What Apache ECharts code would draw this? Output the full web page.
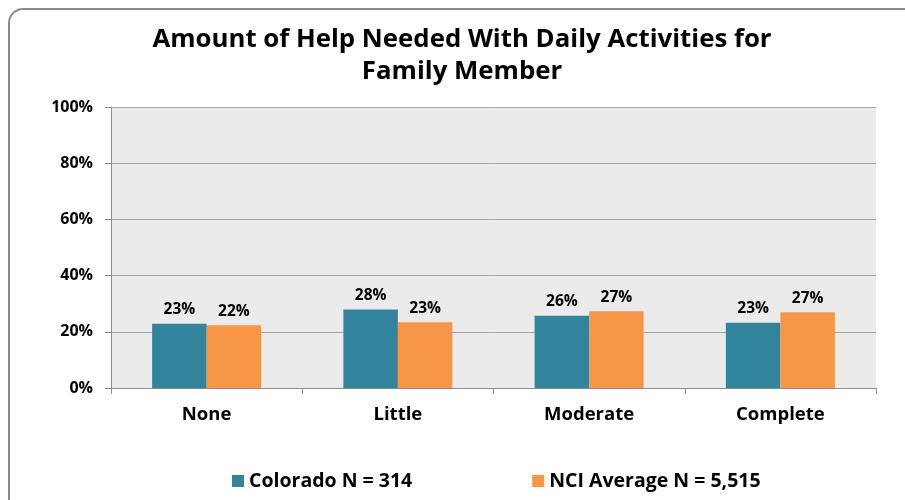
<!DOCTYPE html>
<html>
<head>
<meta charset="utf-8">
<style>
  html, body { margin: 0; padding: 0; background: #fff; }
  #main { width: 905px; height: 500px; }
</style>
<script src="https://cdn.jsdelivr.net/npm/echarts@6/dist/echarts.min.js"></script>
</head>
<body>
<div id="main"></div>
<script>
var categories = ['None', 'Little', 'Moderate', 'Complete']
var colorado = [22.9, 27.9, 25.7, 23.2]
var nciAverage = [22.3, 23.4, 27.3, 27.0]
var seriesNames = ['Colorado N = 314', 'NCI Average N = 5,515']

var font = 'Open Sans'
var chart = echarts.init(document.getElementById('main'))

function label() {
  return {
    show: true,
    position: 'top',
    distance: 6,
    color: '#000',
    fontFamily: font,
    fontWeight: 'bold',
    fontSize: 15.5,
    formatter: function(p) { return Math.round(p.value) + '%' }
  }
}

chart.setOption({
  animation: false,
  title: {
    text: 'Amount of Help Needed With Daily Activities for\nFamily Member',
    left: 457,
    textAlign: 'center',
    top: 19,
    textStyle: {
      fontFamily: font,
      fontWeight: 'bold',
      fontSize: 25.8,
      lineHeight: 32,
      color: '#000'
    }
  },
  graphic: [{
    type: 'rect',
    shape: { x: 9, y: 9, width: 940, height: 540, r: 14 },
    style: { fill: 'none', stroke: '#8c8c8c', lineWidth: 2 },
    z: -10
  }],
  legend: {
    bottom: 4,
    left: 227,
    itemGap: 120,
    itemWidth: 12,
    itemHeight: 12,
    icon: 'rect',
    textStyle: {
      fontFamily: font,
      fontWeight: 'bold',
      fontSize: 19.5,
      color: '#000'
    },
    data: seriesNames
  },
  grid: {
    left: 111,
    right: 29,
    top: 107,
    bottom: 112,
    show: true,
    backgroundColor: '#ebebeb',
    borderWidth: 0
  },
  xAxis: {
    type: 'category',
    data: categories,
    axisLine: { lineStyle: { color: '#8c8c8c', width: 1 } },
    axisTick: { show: true, length: 6, lineStyle: { color: '#8c8c8c' } },
    axisLabel: {
      margin: 17,
      color: '#000',
      fontFamily: font,
      fontWeight: 'bold',
      fontSize: 18.5
    }
  },
  yAxis: {
    type: 'value',
    min: 0,
    max: 100,
    interval: 20,
    axisLine: { show: true, lineStyle: { color: '#8c8c8c', width: 1 } },
    axisTick: { show: true, length: 6, lineStyle: { color: '#8c8c8c' } },
    splitLine: { lineStyle: { color: '#a6a6a6', width: 1 } },
    axisLabel: {
      margin: 18,
      color: '#000',
      fontFamily: font,
      fontWeight: 'bold',
      fontSize: 16,
      formatter: '{value}%'
    }
  },
  series: [{
    name: seriesNames[0],
    type: 'bar',
    data: colorado,
    barWidth: '28.5%',
    barGap: '0%',
    itemStyle: { color: '#31849b' },
    label: label()
  }, {
    name: seriesNames[1],
    type: 'bar',
    data: nciAverage,
    barWidth: '28.5%',
    itemStyle: { color: '#f79646' },
    label: label()
  }]
})
</script>
</body>
</html>
